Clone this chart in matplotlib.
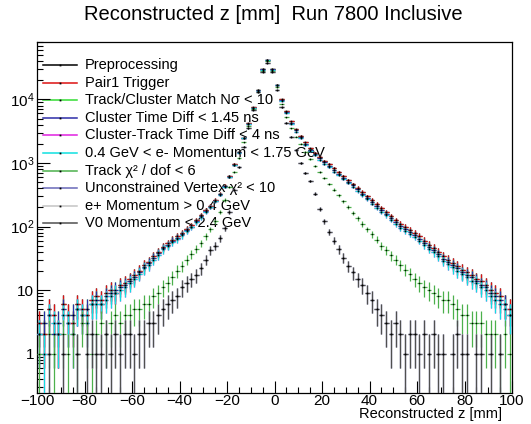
import numpy as np
import matplotlib
matplotlib.use("Agg")
import matplotlib.pyplot as plt
from matplotlib.ticker import FixedLocator, FuncFormatter, LogLocator, NullFormatter, MultipleLocator

plt.rcParams['font.family'] = ['Liberation Sans', 'DejaVu Sans']
plt.rcParams['mathtext.fontset'] = 'custom'
plt.rcParams['mathtext.rm'] = 'Liberation Sans'
plt.rcParams['mathtext.it'] = 'Liberation Sans:italic'
plt.rcParams['axes.unicode_minus'] = True

# ---- data (2 mm bins, centres -99 ... 99) ----
bin_centers = list(range(-99, 100, 2))

wide_a = [3, 2, 5, 4, 2, 6, 4, 3, 6, 5,
          4, 7, 8, 7, 9, 10, 9, 12, 13, 15,
          17, 20, 25, 28, 34, 40, 48, 55, 62, 70,
          80, 92, 105, 125, 150, 180, 210, 260, 330, 440,
          620, 950, 1500, 2500, 4200, 7500, 14000, 30000, 42000, 30000,
          17000, 10000, 6500, 4500, 3400, 2700, 2100, 1700, 1450, 1250,
          1080, 950, 820, 720, 620, 540, 470, 410, 350, 300,
          260, 225, 195, 170, 145, 125, 110, 98, 88, 80,
          70, 60, 52, 46, 40, 34, 30, 27, 24, 21,
          19, 17, 15, 14, 12, 10, 9, 8, 6, 5]

wide_b = [2, 3, 4, 2, 3, 5, 3, 4, 5, 4,
          5, 6, 7, 6, 8, 9, 10, 11, 12, 14,
          16, 19, 23, 27, 32, 38, 46, 52, 60, 67,
          76, 88, 100, 120, 145, 175, 205, 255, 320, 430,
          610, 940, 1480, 2480, 4150, 7400, 13900, 29800, 41500, 29700,
          16800, 9800, 6300, 4300, 3250, 2550, 2000, 1620, 1380, 1180,
          1020, 900, 770, 680, 590, 510, 445, 385, 330, 285,
          245, 210, 182, 160, 136, 118, 102, 92, 82, 74,
          64, 56, 48, 43, 37, 31, 28, 25, 22, 19,
          17, 16, 14, 12, 11, 9, 8, 7, 6, 4]

wide_c = [2, 1, 4, 3, 2, 4, 3, 2, 5, 4,
          3, 6, 6, 6, 7, 8, 9, 10, 11, 13,
          15, 18, 22, 25, 30, 36, 44, 50, 57, 64,
          73, 85, 97, 116, 140, 170, 200, 250, 315, 420,
          600, 930, 1460, 2450, 4100, 7300, 13800, 29500, 41000, 29400,
          16600, 9600, 6100, 4150, 3100, 2450, 1900, 1550, 1310, 1120,
          960, 850, 730, 640, 555, 480, 420, 360, 310, 268,
          230, 198, 170, 150, 128, 110, 96, 86, 76, 69,
          60, 52, 45, 40, 34, 29, 26, 23, 20, 18,
          16, 14, 13, 11, 10, 8, 7, 6, 5, 4]

chi2_cut = [1, 0, 2, 1, 0, 2, 1, 2, 1, 3,
            2, 1, 2, 3, 2, 3, 4, 3, 4, 4,
            5, 5, 6, 6, 8, 9, 11, 13, 16, 20,
            24, 30, 37, 45, 55, 70, 90, 120, 170, 260,
            420, 720, 1200, 2100, 3800, 7000, 13000, 28000, 40000, 28000,
            15500, 8500, 5200, 3500, 2600, 2000, 1500, 1150, 900, 720,
            580, 470, 380, 310, 250, 205, 165, 135, 110, 90,
            75, 62, 50, 42, 35, 30, 25, 21, 18, 15,
            13, 11, 10, 9, 8, 7, 7, 6, 5, 4,
            4, 3, 3, 3, 2, 2, 2, 1, 2, 1]

v0_cut = [0, 0, 1, 0, 0, 1, 0, 0, 1, 0,
          1, 2, 1, 1, 2, 1, 2, 1, 2, 2,
          1, 2, 2, 3, 3, 4, 5, 6, 7, 8,
          11, 13, 15, 17, 22, 30, 42, 50, 65, 95,
          170, 380, 850, 1800, 3500, 6800, 13000, 27000, 38000, 27000,
          14000, 7500, 4300, 2600, 1600, 1000, 700, 520, 330, 190,
          120, 82, 60, 44, 32, 24, 19, 15, 12, 9,
          7, 5, 4, 3, 2, 3, 2, 1, 2, 2,
          1, 2, 1, 2, 1, 1, 0, 1, 2, 1,
          1, 0, 1, 1, 0, 1, 0, 1, 0, 0]

labels = ["Preprocessing", "Pair1 Trigger", "Track/Cluster Match Nσ < 10",
          "Cluster Time Diff < 1.45 ns", "Cluster-Track Time Diff < 4 ns",
          "0.4 GeV < e- Momentum < 1.75 GeV", "Track χ² / dof < 6",
          "Unconstrained Vertex χ² < 10", "e+ Momentum > 0.4 GeV",
          "V0 Momentum < 2.4 GeV"]
series_data = [wide_a, wide_a, wide_b, wide_b, wide_c, wide_c,
               chi2_cut, v0_cut, v0_cut, v0_cut]
colors = ['#000000', '#dd1111', '#33dd33', '#2c2ca8', '#e020e0', '#10e0e0',
          '#4cb04c', '#6868b8', '#c4c4c4', '#505050']

W, H = 531, 424
fig = plt.figure(figsize=(W / 100, H / 100), dpi=100)
ax_l, ax_r, ax_t, ax_b = 37, 512, 42, 393
ax = fig.add_axes([ax_l / W, 1 - ax_b / H, (ax_r - ax_l) / W, (ax_b - ax_t) / H])

x = np.array(bin_centers, dtype=float)
for vals, col in zip(series_data, colors):
    y = np.array(vals, dtype=float)
    m = y > 0
    err = np.sqrt(y[m])
    lo = np.minimum(err, y[m] - 0.01)
    ax.errorbar(x[m], y[m], yerr=[lo, err], xerr=1.0, fmt='s', ms=1.0,
                mfc='black', mec='black', mew=0, ecolor=col, elinewidth=0.9,
                capsize=0, zorder=3)

ax.set_yscale('log')
ax.set_xlim(-100, 100)
ax.set_ylim(0.24, 8e4)

def yfmt(v, pos):
    if abs(v - 1) < 1e-9:
        return "1"
    if abs(v - 10) < 1e-6:
        return "10"
    e = int(round(np.log10(v)))
    return r"$10^{%d}$" % e

ax.yaxis.set_major_locator(FixedLocator([1, 10, 100, 1000, 10000]))
ax.yaxis.set_major_formatter(FuncFormatter(yfmt))
ax.yaxis.set_minor_locator(LogLocator(base=10, subs=np.arange(2, 10)))
ax.yaxis.set_minor_formatter(NullFormatter())
ax.xaxis.set_major_locator(MultipleLocator(20))
ax.xaxis.set_minor_locator(MultipleLocator(5))
ax.tick_params(axis='both', which='major', direction='in', length=9, width=0.8,
               labelsize=11, top=False, right=False)
ax.tick_params(axis='both', which='minor', direction='in', length=4.5, width=0.8,
               top=False, right=False)
ax.tick_params(axis='x', pad=1)
ax.tick_params(axis='y', pad=2)
for s in ax.spines.values():
    s.set_linewidth(0.9)

fig.text(502 / W, 1 - 414 / H, "Reconstructed z [mm]", ha='right', va='center',
         fontsize=10.5)
fig.text(273 / W, 1 - 15 / H, "Reconstructed z [mm]  Run 7800 Inclusive", ha='center',
         va='center', fontsize=14.5)

# hand-built legend (ROOT style, no frame, drawn under the data)
def ax_x(px):
    return (px - ax_l) / (ax_r - ax_l)

def ax_y(py):
    return (ax_b - py) / (ax_b - ax_t)

for i, (lab, col) in enumerate(zip(labels, colors)):
    py = 65 + i * 17.6
    ax.plot([ax_x(43), ax_x(77)], [ax_y(py), ax_y(py)], color=col, lw=1.1,
            transform=ax.transAxes, zorder=1, clip_on=False)
    ax.plot([ax_x(60)], [ax_y(py)], 's', ms=1.3, color='black', mew=0,
            transform=ax.transAxes, zorder=1)
    ax.text(ax_x(85), ax_y(py), lab, transform=ax.transAxes, va='center', ha='left',
            fontsize=10.5, zorder=1)

fig.savefig("out.png", dpi=100)
